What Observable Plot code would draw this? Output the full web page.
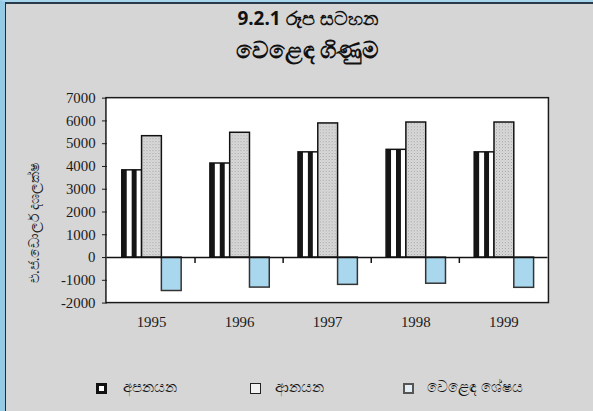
<!DOCTYPE html>
<html>
<head>
<meta charset="utf-8">
<script src="https://cdn.jsdelivr.net/npm/d3@7"></script>
<script src="https://cdn.jsdelivr.net/npm/@observablehq/plot@0.6"></script>
<style>
  html, body { margin: 0; padding: 0; }
  body { width: 593px; height: 411px; overflow: hidden; font-family: "Noto Sans", "DejaVu Sans", sans-serif; }
  #outer { position: relative; width: 593px; height: 411px; box-sizing: border-box;
           background: #d6d6d6; border-left: 5px solid #96cbe6; border-top: 2px solid #a8d6ec; }
  #inner { position: absolute; left: 0; top: 0; right: 0; bottom: 0;
           border-left: 1.5px solid #2b2b2b; border-top: 2px solid #2b3a4a; }
  #title { position: absolute; left: 0; top: 0; width: 593px; text-align: center; color: #111; font-weight: bold; }
  #t1 { position: absolute; left: 0; width: 603px; top: 1px; height: 26px; line-height: 26px; font-size: 19px; }
  #t2 { position: absolute; left: 0; width: 603px; top: 29px; height: 32px; line-height: 32px; font-size: 23px; }
  #chart { position: absolute; left: -6px; top: 60px; }
  #ylab { position: absolute; left: 27px; top: 219px; width: 0; height: 0; }
  #ylab span { position: absolute; transform: translate(-50%, -50%) rotate(-90deg); white-space: nowrap; font-size: 14px; color: #222; }
  .leg { position: absolute; top: 372px; font-size: 14.5px; color: #111; white-space: nowrap; }
  .sw { position: absolute; top: 379px; width: 11px; height: 11px; box-sizing: border-box; }
</style>
</head>
<body>
<svg width="0" height="0" style="position:absolute">
  <defs>
    <pattern id="stripes" patternUnits="objectBoundingBox" patternContentUnits="objectBoundingBox" width="0.5" height="1">
      <rect x="0" y="0" width="0.5" height="1" fill="#ffffff"></rect>
      <rect x="0" y="0" width="0.25" height="1" fill="#161616"></rect>
    </pattern>
    <pattern id="dots" patternUnits="userSpaceOnUse" width="3" height="3">
      <rect x="0" y="0" width="3" height="3" fill="#dcdcdc"></rect>
      <rect x="0" y="0" width="1" height="1" fill="#9a9a9a"></rect>
      <rect x="1.5" y="1.5" width="1" height="1" fill="#b0b0b0"></rect>
    </pattern>
  </defs>
</svg>
<div id="outer">
  <div id="inner">
    <div id="title"><div id="t1">9.2.1 රූප සටහන</div><div id="t2">වෙළෙඳ ගිණුම</div></div>
    <div id="chart"></div>
    <div id="ylab"><span>එ.ජ.ඩොලර් දශලක්ෂ</span></div>
    <div id="legend"></div>
  </div>
</div>
<script>
const years = ["1995", "1996", "1997", "1998", "1999"];
const seriesNames = ["අපනයන", "ආනයන", "වෙළෙඳ ශේෂය"];
const exportsVals = [3830, 4130, 4620, 4730, 4620];
const importsVals = [5330, 5480, 5890, 5930, 5930];
const balanceVals = [-1470, -1320, -1200, -1150, -1330];
const yTicks = [-2000, -1000, 0, 1000, 2000, 3000, 4000, 5000, 6000, 7000];

const seriesValues = [exportsVals, importsVals, balanceVals];
const fills = ["url(#stripes)", "url(#dots)", "#a9d7ee"];
const strokes = ["#111", "#111", "#333"];

const rows = [];
years.forEach((y, i) => seriesNames.forEach((s, j) => rows.push({year: y, series: s, value: seriesValues[j][i]})));

const plot = Plot.plot({
  width: 599,
  height: 292,
  marginLeft: 107,
  marginRight: 45,
  marginTop: 34,
  marginBottom: 51,
  style: {background: "transparent", fontFamily: "'Liberation Serif', 'Times New Roman', serif", fontSize: "15px", color: "#1a1a1a"},
  fx: {domain: years, padding: 0, label: null, tickSize: 0, tickPadding: 14},
  x: {domain: seriesNames, paddingInner: 0, paddingOuter: 0.68, axis: null},
  y: {domain: [-2000, 7000], ticks: yTicks, tickFormat: d => String(d), tickSize: 5, tickPadding: 7, label: null},
  marks: [
    ...seriesNames.map((s, j) => Plot.barY(rows.filter(r => r.series === s), {
      fx: "year", x: "series", y: "value",
      fill: fills[j], stroke: strokes[j], strokeWidth: 1.5, inset: 0
    })),
    Plot.ruleY([0], {stroke: "#111", strokeWidth: 1.5})
  ]
});

// frame around the whole plotting area and white panel, via the plot's own scales
const fxDesc = plot.scale("fx");
const yDesc = plot.scale("y");
const fxApply = fxDesc.apply ? (v => fxDesc.apply(v)) :
  d3.scaleBand().domain(fxDesc.domain).range(fxDesc.range).paddingInner(fxDesc.paddingInner || 0).paddingOuter(fxDesc.paddingOuter || 0);
const yApply = yDesc.apply ? (v => yDesc.apply(v)) : d3.scaleLinear().domain(yDesc.domain).range(yDesc.range);
const fxr = fxDesc.range;
const yr = yDesc.range;
const svgEl = plot.tagName.toLowerCase() === "svg" ? plot : plot.querySelector("svg");
const svg = d3.select(svgEl);
const x0 = Math.min(...fxr), x1 = Math.max(...fxr);
const yTop = Math.min(...yr), yBot = Math.max(...yr);
svg.insert("rect", ":first-child")
  .attr("x", x0).attr("y", yTop).attr("width", x1 - x0).attr("height", yBot - yTop)
  .attr("fill", "#ffffff");
svg.append("rect")
  .attr("x", x0).attr("y", yTop).attr("width", x1 - x0).attr("height", yBot - yTop)
  .attr("fill", "none").attr("stroke", "#1a1a1a").attr("stroke-width", 1.5);
const y0 = yApply(0);
years.slice(1).forEach(y => {
  const xb = fxApply(y);
  svg.append("line").attr("x1", xb).attr("x2", xb).attr("y1", y0).attr("y2", y0 + 6)
    .attr("stroke", "#111").attr("stroke-width", 1.5);
});

document.getElementById("chart").appendChild(plot);

// legend
const legend = document.getElementById("legend");
const legItems = [
  {sw: 90, lab: 117, style: "border: 3px solid #111; background: #fff;"},
  {sw: 244, lab: 269, style: "border: 1.5px solid #222; background: #f2f2f2;"},
  {sw: 397, lab: 421, style: "border: 2px solid #555; background: #e3eef4;"}
];
seriesNames.forEach((s, j) => {
  const sw = document.createElement("div");
  sw.className = "sw"; sw.style.cssText = legItems[j].style; sw.style.left = legItems[j].sw + "px";
  legend.appendChild(sw);
  const t = document.createElement("div");
  t.className = "leg"; t.textContent = s; t.style.left = legItems[j].lab + "px";
  legend.appendChild(t);
});
</script>
</body>
</html>
